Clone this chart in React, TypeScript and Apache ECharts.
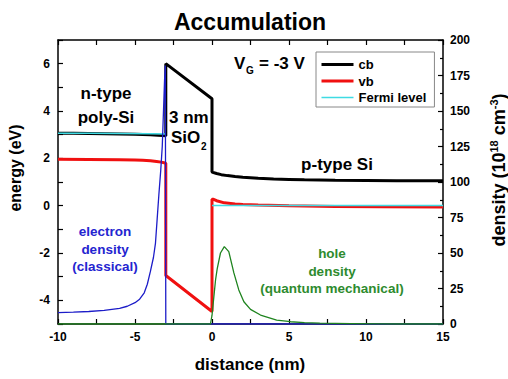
import React, { useEffect, useRef } from 'react';
import * as echarts from 'echarts';

const F = '"Liberation Sans", Arial, Helvetica, sans-serif';

// energy curves (eV) vs distance (nm)
const cbData: [number, number][] = [
  [-10, 3.06], [-9, 3.06], [-8, 3.05], [-7, 3.04], [-6, 3.03], [-5, 3.02], [-4.5, 3.01],
  [-4, 3.0], [-3.5, 2.98], [-3.2, 2.96], [-3, 2.95], [-3, 6.0], [0, 4.52], [0, 1.42],
  [0.3, 1.36], [0.6, 1.31], [1, 1.27], [1.5, 1.23], [2, 1.2], [3, 1.16], [4, 1.13],
  [5, 1.11], [6, 1.09], [8, 1.07], [10, 1.06], [12, 1.05], [15, 1.05],
];
const vbData: [number, number][] = [
  [-10, 1.96], [-8, 1.95], [-6, 1.94], [-5, 1.93], [-4.5, 1.92], [-4, 1.9], [-3.6, 1.87],
  [-3.3, 1.84], [-3.1, 1.81], [-3, 1.79], [-3, -2.95], [0, -4.47], [0, 0.27], [0.1, 0.27],
  [0.3, 0.21], [0.8, 0.12], [1.5, 0.07], [2, 0.05], [3, 0.03], [5, 0.0], [8, -0.03],
  [11, -0.05], [15, -0.06],
];
const fermiPolyData: [number, number][] = [
  [-10, 3.06], [-8, 3.06], [-6, 3.05], [-4, 3.04], [-3, 3.03],
];
const fermiSiData: [number, number][] = [
  [0, 0.01], [5, 0.01], [10, 0.01], [15, 0.01],
];

// densities (1e18 cm^-3) vs distance (nm)
const electronData: [number, number][] = [
  [-10, 8], [-9, 8.3], [-8, 8.8], [-7, 9.6], [-6, 11], [-5.5, 12.5], [-5, 15], [-4.7, 17.5],
  [-4.4, 22], [-4.2, 28], [-4, 37], [-3.8, 47], [-3.67, 57], [-3.56, 74], [-3.45, 91],
  [-3.33, 108], [-3.23, 125], [-3.15, 150], [-3.08, 172], [-3.03, 182], [-3, 182], [-3, 0],
  [0, 0], [15, 0],
];
const holeData: [number, number][] = [
  [-10, 0], [-0.1, 0], [0, 6], [0.12, 19], [0.23, 31], [0.34, 39], [0.55, 50], [0.8, 54.5],
  [1.09, 51], [1.42, 36], [1.74, 24], [2.07, 15.7], [2.5, 10.3], [3.15, 6.3], [4.2, 2.8],
  [5.1, 1.6], [6, 1], [7, 0.6], [9, 0.3], [11, 0.1], [12, 0], [15, 0],
];

const legendNames = ['cb', 'vb', 'Fermi level'];

const axisLine = { show: true, onZero: false, lineStyle: { color: '#000', width: 1.5 } };
const tickStyle = { color: '#000', width: 1.2 };
const labelStyle = { fontSize: 12, fontWeight: 'bold' as const, color: '#000', fontFamily: F };

function txt(text: string, x: number, y: number, size: number, color = '#000', align = 'center') {
  return {
    type: 'text',
    x,
    y,
    style: {
      text,
      fontSize: size,
      fontWeight: 'bold',
      fontFamily: F,
      fill: color,
      align,
      verticalAlign: 'middle',
    },
  };
}

export default function App() {
  const ref = useRef<HTMLDivElement>(null);
  useEffect(() => {
    document.body.style.margin = '0';
    const chart = echarts.init(ref.current!, null, { renderer: 'svg' });
    const blue = '#1c1cc8';
    const green = '#1f841f';
    const option: any = {
      animation: false,
      backgroundColor: '#fff',
      textStyle: { fontFamily: F },
      title: {
        text: 'Accumulation',
        left: 245,
        top: 5,
        textAlign: 'center',
        textStyle: { fontSize: 23, fontWeight: 'bold', color: '#000', fontFamily: F },
      },
      legend: {
        data: legendNames,
        orient: 'vertical',
        left: 316,
        top: 52,
        padding: [6, 8, 3, 4],
        itemWidth: 32,
        itemHeight: 12,
        itemGap: 3.5,
        borderColor: '#888',
        borderWidth: 1,
        selectedMode: false,
        itemStyle: { opacity: 0 },
        lineStyle: { width: 'inherit', opacity: 1 },
        textStyle: { fontSize: 13, fontWeight: 'bold', color: '#000', fontFamily: F },
      },
      grid: { left: 58, right: 65, top: 40, bottom: 55 },
      xAxis: [
        {
          type: 'value', min: -10, max: 15, interval: 2.5, position: 'bottom',
          axisLine, axisTick: { inside: true, length: 5, lineStyle: tickStyle },
          axisLabel: { ...labelStyle, margin: 7, formatter: (v: number) => (v % 5 === 0 ? String(v) : '') },
          splitLine: { show: false },
        },
        {
          type: 'value', min: -10, max: 15, interval: 2.5, position: 'top',
          axisLine, axisTick: { inside: true, length: 5, lineStyle: tickStyle },
          axisLabel: { show: false }, splitLine: { show: false },
        },
      ],
      yAxis: [
        {
          type: 'value', min: -5, max: 7, interval: 1, position: 'left',
          axisLine, axisTick: { inside: true, length: 5, lineStyle: tickStyle },
          axisLabel: { ...labelStyle, margin: 8, formatter: (v: number) => (v % 2 === 0 ? String(v) : '') },
          splitLine: { show: false },
        },
        {
          type: 'value', min: 0, max: 200, interval: 25, position: 'right',
          axisLine, axisTick: { inside: true, length: 5, lineStyle: tickStyle },
          minorTick: { show: true, splitNumber: 2, length: 3, lineStyle: tickStyle },
          axisLabel: { ...labelStyle, margin: 7 },
          splitLine: { show: false },
        },
      ],
      series: [
        {
          type: 'line', name: 'cb', data: cbData, yAxisIndex: 0, symbol: 'none',
          lineStyle: { color: '#000', width: 3 }, itemStyle: { color: '#000' }, z: 2,
        },
        {
          type: 'line', name: 'vb', data: vbData, yAxisIndex: 0, symbol: 'none',
          lineStyle: { color: '#f01010', width: 3 }, itemStyle: { color: '#f01010' }, z: 2,
        },
        {
          type: 'line', name: 'Fermi level', data: fermiPolyData, yAxisIndex: 0, symbol: 'none',
          lineStyle: { color: '#3fdbe3', width: 1.6 }, itemStyle: { color: '#3fdbe3' }, z: 3,
        },
        {
          type: 'line', name: 'Fermi level', data: fermiSiData, yAxisIndex: 0, symbol: 'none',
          lineStyle: { color: '#3fdbe3', width: 1.6 }, itemStyle: { color: '#3fdbe3' }, z: 3,
        },
        {
          type: 'line', name: 'electron density', data: electronData, yAxisIndex: 1, symbol: 'none',
          lineStyle: { color: blue, width: 1.3 }, itemStyle: { color: blue }, z: 4,
        },
        {
          type: 'line', name: 'hole density', data: holeData, yAxisIndex: 1, symbol: 'none',
          lineStyle: { color: green, width: 1.3 }, itemStyle: { color: green }, z: 5,
        },
      ],
      graphic: [
        txt('V', 234, 63, 17, '#000', 'left'),
        txt('G', 246, 70, 10, '#000', 'left'),
        txt('= -3 V', 259, 63, 17, '#000', 'left'),
        txt('n-type', 106, 93, 17),
        txt('poly-Si', 106, 117, 17),
        txt('3 nm', 169, 117, 17, '#000', 'left'),
        txt('SiO', 171, 137, 17, '#000', 'left'),
        txt('2', 201, 146, 10, '#000', 'left'),
        txt('p-type Si', 337, 164, 17),
        txt('electron', 105, 231, 13.5, '#2424d0'),
        txt('density', 105, 249, 13.5, '#2424d0'),
        txt('(classical)', 105, 266, 13.5, '#2424d0'),
        txt('hole', 332, 253, 13.5, '#2e8b2e'),
        txt('density', 332, 271, 13.5, '#2e8b2e'),
        txt('(quantum mechanical)', 332, 288.5, 13.5, '#2e8b2e'),
        txt('distance (nm)', 250, 364, 17),
        {
          type: 'text', x: 15, y: 168, rotation: Math.PI / 2,
          style: {
            text: 'energy (eV)', fontSize: 16, fontWeight: 'bold', fontFamily: F, fill: '#000',
            align: 'center', verticalAlign: 'middle',
          },
        },
        {
          type: 'text', x: 499, y: 170, rotation: Math.PI / 2,
          style: {
            text: '{a|density (10}{s|18}{a| cm}{s|-3}{a|)}',
            align: 'center', verticalAlign: 'middle', fill: '#000',
            rich: {
              a: { fontSize: 18, fontWeight: 'bold', fontFamily: F, fill: '#000', lineHeight: 22, verticalAlign: 'middle' },
              s: { fontSize: 11, fontWeight: 'bold', fontFamily: F, fill: '#000', lineHeight: 11, verticalAlign: 'top' },
            },
          },
        },
      ],
    };
    chart.setOption(option);
    return () => chart.dispose();
  }, []);
  return (
    <div
      ref={ref}
      style={{ position: 'absolute', left: 0, top: 0, width: 508, height: 379, background: '#fff' }}
    />
  );
}
